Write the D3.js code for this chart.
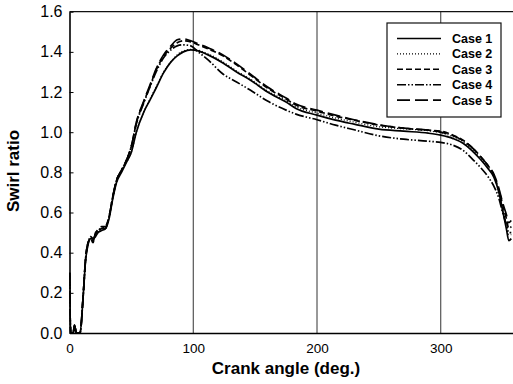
<!DOCTYPE html>
<html>
<head>
<meta charset="utf-8">
<script src="https://cdn.jsdelivr.net/npm/d3@7"></script>
<style>
	body { margin: 0; background: #fff; }
	svg { display: block; font-family: "Liberation Sans", Arial, sans-serif; }
</style>
</head>
<body>
<div id="chart"></div>
<script>
// crank angle (deg.) shared by all cases
var angles = [0, 1, 3, 4, 5.5, 8.5, 11, 13, 15, 17, 19, 21, 23, 26, 29, 32, 35, 38, 42, 46,
	50, 54, 60, 65, 70, 76, 82, 87, 92, 98, 104, 112, 124, 135, 146, 160, 175, 183, 200, 215,
	230, 250, 270, 290, 300, 310, 318, 325, 332, 338, 343, 347, 350, 353, 355, 357];

var case1 = [0.30, 0, 0, 0.04, 0, 0, 0.18, 0.36, 0.44, 0.47, 0.47, 0.48, 0.50, 0.51, 0.52, 0.57, 0.67, 0.75, 0.80, 0.85,
	0.90, 1.00, 1.10, 1.16, 1.22, 1.295, 1.35, 1.38, 1.40, 1.41, 1.405, 1.385, 1.345, 1.30, 1.26, 1.20, 1.15, 1.118, 1.085, 1.06,
	1.04, 1.015, 1.005, 0.995, 0.985, 0.968, 0.945, 0.91, 0.865, 0.82, 0.775, 0.70, 0.61, 0.52, 0.46, 0.47];
var case2 = [0.30, 0, 0, 0.04, 0, 0, 0.18, 0.36, 0.44, 0.47, 0.46, 0.49, 0.50, 0.52, 0.52, 0.58, 0.67, 0.75, 0.81, 0.85,
	0.90, 1.00, 1.10, 1.165, 1.225, 1.30, 1.35, 1.385, 1.405, 1.412, 1.408, 1.39, 1.35, 1.305, 1.265, 1.205, 1.157, 1.127, 1.095, 1.07,
	1.05, 1.027, 1.017, 1.007, 0.997, 0.978, 0.953, 0.917, 0.87, 0.825, 0.78, 0.705, 0.62, 0.54, 0.49, 0.49];
var case3 = [0.30, 0, 0, 0.04, 0, 0, 0.18, 0.37, 0.45, 0.47, 0.45, 0.50, 0.51, 0.52, 0.53, 0.58, 0.68, 0.76, 0.81, 0.86,
	0.93, 1.045, 1.15, 1.228, 1.31, 1.377, 1.42, 1.445, 1.455, 1.45, 1.435, 1.415, 1.38, 1.335, 1.285, 1.22, 1.165, 1.135, 1.105, 1.08,
	1.06, 1.035, 1.02, 1.01, 1.005, 0.985, 0.96, 0.925, 0.88, 0.835, 0.785, 0.71, 0.64, 0.57, 0.52, 0.53];
var case4 = [0.30, 0, 0, 0.04, 0, 0, 0.18, 0.37, 0.45, 0.48, 0.47, 0.49, 0.51, 0.52, 0.52, 0.58, 0.68, 0.76, 0.81, 0.86,
	0.93, 1.04, 1.145, 1.225, 1.30, 1.37, 1.41, 1.43, 1.435, 1.43, 1.40, 1.36, 1.29, 1.25, 1.21, 1.155, 1.11, 1.09, 1.062, 1.035,
	1.012, 0.982, 0.965, 0.955, 0.949, 0.935, 0.91, 0.87, 0.825, 0.78, 0.73, 0.67, 0.60, 0.54, 0.50, 0.50];
var case5 = [0.30, 0, 0, 0.04, 0, 0, 0.18, 0.37, 0.45, 0.47, 0.46, 0.49, 0.52, 0.53, 0.53, 0.58, 0.68, 0.76, 0.81, 0.86,
	0.93, 1.05, 1.155, 1.235, 1.315, 1.385, 1.43, 1.46, 1.465, 1.455, 1.44, 1.42, 1.385, 1.34, 1.29, 1.225, 1.17, 1.14, 1.11, 1.085,
	1.062, 1.037, 1.02, 1.01, 1.0, 0.982, 0.958, 0.925, 0.88, 0.835, 0.79, 0.72, 0.65, 0.59, 0.55, 0.56];

var caseNames = ["Case 1", "Case 2", "Case 3", "Case 4", "Case 5"];
var caseValues = [case1, case2, case3, case4, case5];
var dashes = ["none", "1,2", "6,3", "9,2,1.5,2,1.5,2", "13,5"];
var xTicks = [0, 100, 200, 300];
var yTicks = [0, 0.2, 0.4, 0.6, 0.8, 1.0, 1.2, 1.4, 1.6];

var width = 513
var height = 384
var mLeft = 69.5, mTop = 11.7, mRight = 515, mBottom = 333;

var svg = d3.select("#chart")
	.append("svg")
	.attr("width", width)
	.attr("height", height);

var x = d3.scaleLinear().domain([0, 360]).range([mLeft, mRight]);
var y = d3.scaleLinear().domain([0, 1.6]).range([mBottom, mTop]);

svg.append("clipPath").attr("id", "plot")
	.append("rect")
	.attr("x", mLeft).attr("y", mTop - 1)
	.attr("width", mRight - mLeft).attr("height", mBottom - mTop + 1);

// vertical grid lines
svg.append("g")
	.selectAll("line")
	.data(xTicks.filter(function (d) { return d > 0; }))
	.enter()
	.append("line")
	.attr("x1", function (d) { return x(d); })
	.attr("x2", function (d) { return x(d); })
	.attr("y1", mTop)
	.attr("y2", mBottom)
	.attr("stroke", "#333")
	.attr("stroke-width", 1);

// top border
svg.append("line")
	.attr("x1", mLeft).attr("x2", width)
	.attr("y1", mTop).attr("y2", mTop)
	.attr("stroke", "#111").attr("stroke-width", 1.2);

// curves
var line = d3.line()
	.x(function (d) { return x(d[0]); })
	.y(function (d) { return y(d[1]); })
	.curve(d3.curveMonotoneX);

svg.append("g")
	.attr("clip-path", "url(#plot)")
	.selectAll("path")
	.data(caseValues)
	.enter()
	.append("path")
	.attr("d", function (vals) { return line(angles.map(function (a, i) { return [a, vals[i]]; })); })
	.attr("fill", "none")
	.attr("stroke", "#000")
	.attr("stroke-width", function (d, i) { return i == 1 ? 1.3 : 1.7; })
	.attr("stroke-dasharray", function (d, i) { return dashes[i]; });

// axes
var yAxis = svg.append("g")
	.attr("transform", "translate(" + mLeft + ",0)")
	.call(d3.axisLeft(y).tickValues(yTicks).tickFormat(d3.format(".1f"))
		.tickSizeInner(-4).tickSizeOuter(0).tickPadding(7));
yAxis.select(".domain").attr("stroke-width", 1.6);
yAxis.selectAll("text").attr("font-size", 16).attr("fill", "#000")
	.attr("font-family", "Liberation Sans, Arial, sans-serif");

var xAxis = svg.append("g")
	.attr("transform", "translate(0," + mBottom + ")")
	.call(d3.axisBottom(x).tickValues(xTicks).tickSize(0).tickPadding(10));
xAxis.select(".domain").attr("stroke-width", 1.6);
xAxis.selectAll("text").attr("font-size", 13.5).attr("fill", "#000")
	.attr("font-family", "Liberation Sans, Arial, sans-serif");

// axis titles
svg.append("text")
	.attr("x", 286).attr("y", 374)
	.attr("text-anchor", "middle")
	.attr("font-size", 17).attr("font-weight", "bold")
	.text("Crank angle (deg.)");

svg.append("text")
	.attr("transform", "translate(19,171) rotate(-90)")
	.attr("text-anchor", "middle")
	.attr("font-size", 17).attr("font-weight", "bold")
	.text("Swirl ratio");

// legend
var lg = svg.append("g");
lg.append("rect")
	.attr("x", 387).attr("y", 23)
	.attr("width", 114).attr("height", 94)
	.attr("fill", "#fff").attr("stroke", "#111").attr("stroke-width", 1.2);

var rows = lg.selectAll("g.row")
	.data(caseNames)
	.enter()
	.append("g")
	.attr("class", "row")
	.attr("transform", function (d, i) { return "translate(0," + (38.5 + i * 15.4) + ")"; });

rows.append("line")
	.attr("x1", 397).attr("x2", 441)
	.attr("stroke", "#000")
	.attr("stroke-width", function (d, i) { return i == 1 ? 1.2 : 1.6; })
	.attr("stroke-dasharray", function (d, i) { return dashes[i]; });

rows.append("text")
	.attr("x", 452).attr("dy", "0.36em")
	.attr("font-size", 12.5).attr("font-weight", "bold")
	.text(function (d) { return d; });
</script>
</body>
</html>
